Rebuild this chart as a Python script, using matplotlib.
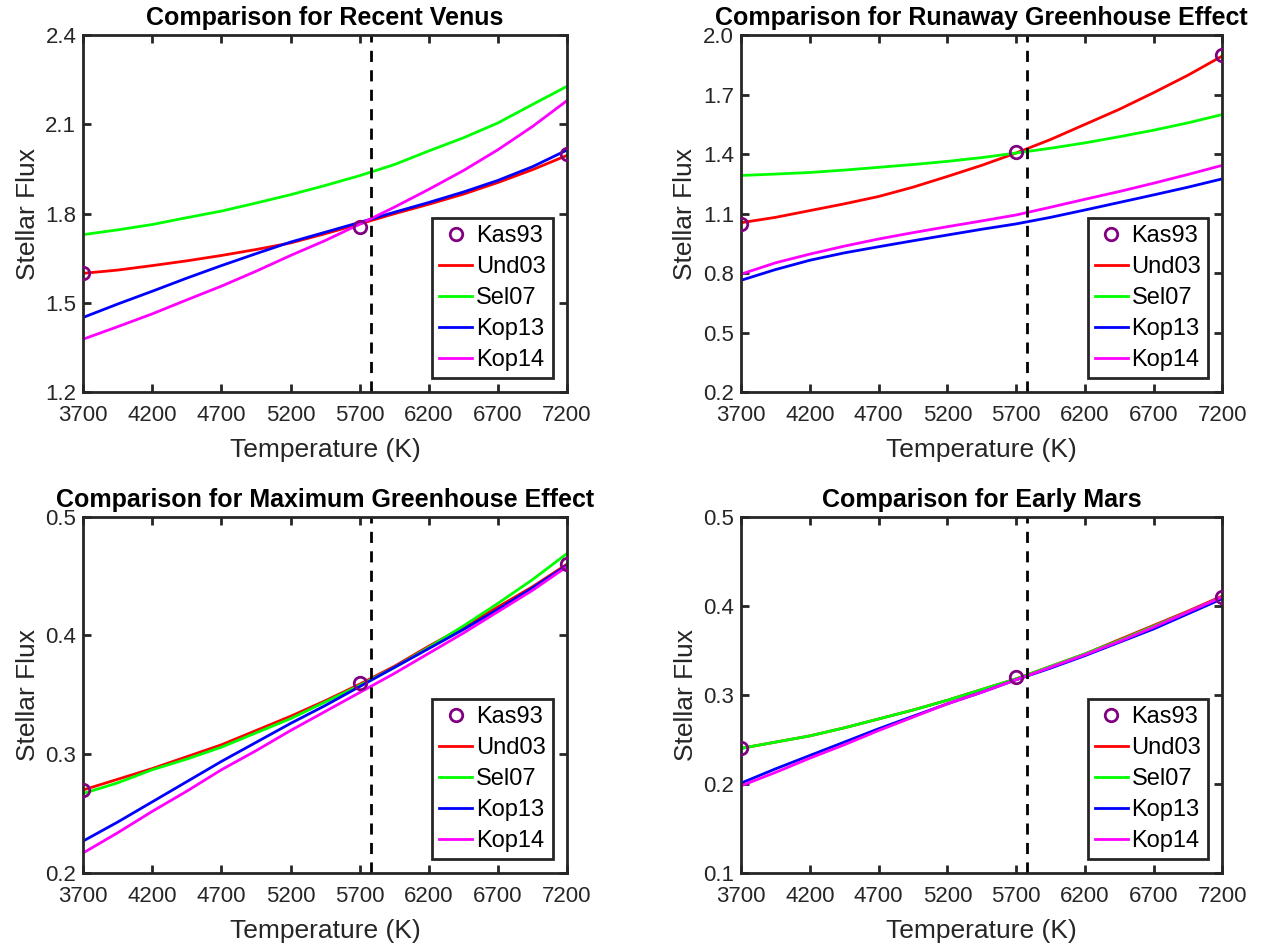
import matplotlib
matplotlib.use('Agg')
import matplotlib.pyplot as plt

plt.rcParams['font.family'] = ['Liberation Sans', 'DejaVu Sans']

# temperatures (K), every 250 K
temps = [3700, 3950, 4200, 4450, 4700, 4950, 5200, 5450, 5700, 5950, 6200, 6450, 6700, 6950, 7200]
kas_temps = [3700, 5700, 7200]
sun_temp = 5780

# Recent Venus
rv_kas93 = [1.60, 1.755, 2.00]
rv_und03 = [1.600, 1.611, 1.626, 1.642, 1.660, 1.680, 1.702, 1.733, 1.766, 1.800, 1.832, 1.866, 1.905, 1.948, 1.996]
rv_sel07 = [1.730, 1.746, 1.764, 1.787, 1.809, 1.836, 1.864, 1.895, 1.928, 1.965, 2.011, 2.055, 2.105, 2.167, 2.228]
rv_kop13 = [1.452, 1.497, 1.540, 1.584, 1.626, 1.666, 1.705, 1.738, 1.771, 1.805, 1.838, 1.873, 1.912, 1.958, 2.014]
rv_kop14 = [1.379, 1.421, 1.464, 1.511, 1.557, 1.607, 1.660, 1.710, 1.765, 1.822, 1.882, 1.945, 2.015, 2.093, 2.180]

# Runaway Greenhouse
rg_kas93 = [1.05, 1.41, 1.90]
rg_und03 = [1.055, 1.082, 1.116, 1.150, 1.187, 1.234, 1.288, 1.344, 1.406, 1.474, 1.550, 1.626, 1.710, 1.798, 1.895]
rg_sel07 = [1.293, 1.300, 1.308, 1.320, 1.334, 1.348, 1.364, 1.383, 1.406, 1.430, 1.457, 1.488, 1.521, 1.558, 1.600]
rg_kop13 = [0.765, 0.819, 0.866, 0.903, 0.934, 0.964, 0.993, 1.022, 1.049, 1.082, 1.119, 1.157, 1.195, 1.234, 1.276]
rg_kop14 = [0.796, 0.853, 0.897, 0.937, 0.973, 1.005, 1.035, 1.064, 1.094, 1.133, 1.173, 1.212, 1.254, 1.298, 1.344]

# Maximum Greenhouse
mg_kas93 = [0.27, 0.36, 0.46]
mg_und03 = [0.270, 0.279, 0.288, 0.298, 0.308, 0.320, 0.332, 0.345, 0.359, 0.374, 0.391, 0.407, 0.424, 0.441, 0.460]
mg_sel07 = [0.267, 0.276, 0.287, 0.296, 0.306, 0.318, 0.330, 0.344, 0.358, 0.373, 0.390, 0.408, 0.427, 0.447, 0.469]
mg_kop13 = [0.227, 0.243, 0.260, 0.277, 0.294, 0.310, 0.326, 0.341, 0.357, 0.373, 0.389, 0.405, 0.422, 0.440, 0.459]
mg_kop14 = [0.217, 0.234, 0.252, 0.269, 0.287, 0.303, 0.320, 0.336, 0.352, 0.368, 0.385, 0.402, 0.420, 0.438, 0.458]

# Early Mars
em_kas93 = [0.24, 0.32, 0.41]
em_und03 = [0.240, 0.247, 0.254, 0.263, 0.273, 0.283, 0.294, 0.306, 0.318, 0.332, 0.346, 0.362, 0.378, 0.394, 0.411]
em_sel07 = [0.240, 0.247, 0.254, 0.263, 0.273, 0.283, 0.294, 0.306, 0.318, 0.332, 0.346, 0.361, 0.377, 0.393, 0.410]
em_kop13 = [0.201, 0.217, 0.232, 0.247, 0.262, 0.276, 0.290, 0.303, 0.317, 0.330, 0.344, 0.359, 0.374, 0.391, 0.408]
em_kop14 = [0.198, 0.213, 0.229, 0.244, 0.260, 0.275, 0.290, 0.303, 0.317, 0.331, 0.345, 0.360, 0.376, 0.393, 0.410]

panels = [
    ('Comparison for Recent Venus', rv_kas93, rv_und03, rv_sel07, rv_kop13, rv_kop14, [1.2, 1.5, 1.8, 2.1, 2.4]),
    ('Comparison for Runaway Greenhouse Effect', rg_kas93, rg_und03, rg_sel07, rg_kop13, rg_kop14,
     [0.2, 0.5, 0.8, 1.1, 1.4, 1.7, 2.0]),
    ('Comparison for Maximum Greenhouse Effect', mg_kas93, mg_und03, mg_sel07, mg_kop13, mg_kop14, [0.2, 0.3, 0.4, 0.5]),
    ('Comparison for Early Mars', em_kas93, em_und03, em_sel07, em_kop13, em_kop14, [0.1, 0.2, 0.3, 0.4, 0.5]),
]

# axes boxes in figure fractions (left, bottom, width, height)
boxes = [
    (0.065, 0.586, 0.378, 0.377),
    (0.579, 0.586, 0.376, 0.377),
    (0.065, 0.079, 0.378, 0.376),
    (0.579, 0.079, 0.376, 0.376),
]

fig = plt.figure(figsize=(12.8, 9.48), dpi=100)
spine_col = '#262626'

for (title, kas, und, sel, k13, k14, yticks), box in zip(panels, boxes):
    ax = fig.add_axes(box)
    ax.plot(kas_temps, kas, 'o', color='#800080', mfc='none', mew=2, ms=9, label='Kas93', zorder=5)
    ax.plot(temps, und, color='#ff0000', lw=2, label='Und03')
    ax.plot(temps, sel, color='#00ff00', lw=2, label='Sel07')
    ax.plot(temps, k13, color='#0000ff', lw=2, label='Kop13')
    ax.plot(temps, k14, color='#ff00ff', lw=2, label='Kop14')
    ax.axvline(sun_temp, color='k', ls=(0, (4, 3)), lw=2)

    ax.set_xlim(3700, 7200)
    ax.set_ylim(yticks[0], yticks[-1])
    ax.set_xticks(range(3700, 7201, 500))
    ax.set_yticks(yticks)
    ax.set_yticklabels(['%.1f' % v for v in yticks])
    ax.tick_params(direction='in', top=True, right=True, length=6, width=2,
                   labelsize=16, colors=spine_col, pad=5)
    ax.tick_params(axis='x', pad=9)
    for s in ax.spines.values():
        s.set_linewidth(2)
        s.set_color(spine_col)
    ax.set_xlabel('Temperature (K)', fontsize=19, color=spine_col, labelpad=9)
    ax.set_ylabel('Stellar Flux', fontsize=19, color=spine_col, labelpad=4)
    ax.set_title(title, fontsize=18, fontweight='bold', pad=7)

    leg = ax.legend(loc='lower right', fontsize=17, fancybox=False, edgecolor=spine_col,
                    framealpha=1, handlelength=1.4, handletextpad=0.15, borderpad=0.3,
                    labelspacing=0.38, borderaxespad=0.6)
    leg.get_frame().set_linewidth(2)

fig.savefig('out.png', dpi=100)
